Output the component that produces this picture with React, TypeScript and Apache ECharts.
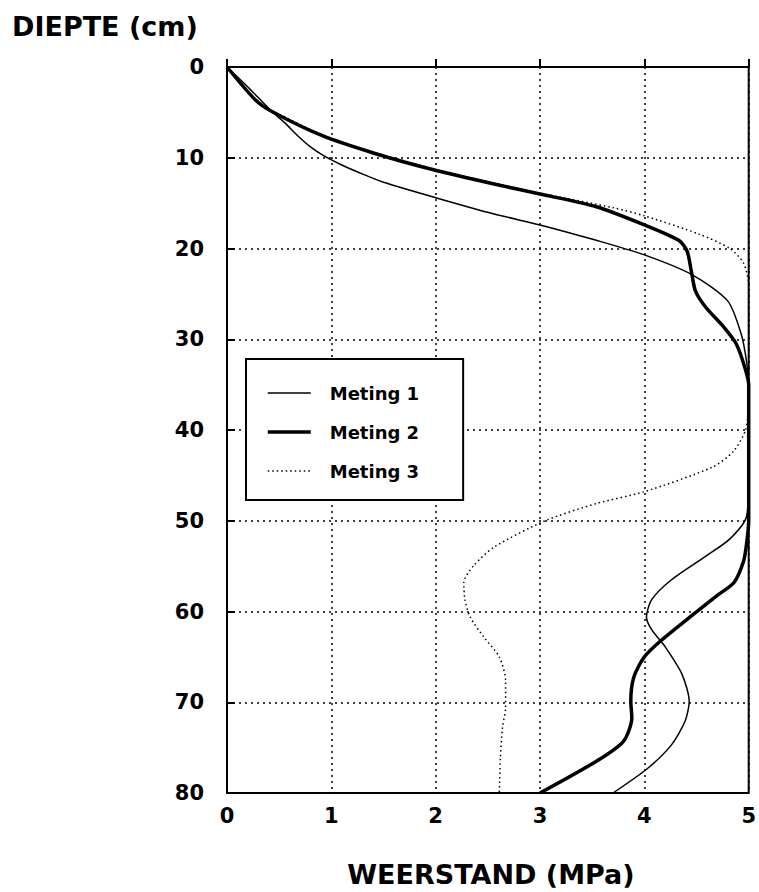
import React, { useEffect, useRef } from "react";
import * as echarts from "echarts";

const xTicks = [0, 1, 2, 3, 4, 5];
const yTicks = [0, 10, 20, 30, 40, 50, 60, 70, 80];

const meting1: [number, number][] = [
  [0, 0], [0.2, 2.2], [0.43, 4.9], [0.55, 6.1], [0.68, 7.6], [0.8, 8.8], [0.93, 9.8],
  [1.1, 10.8], [1.3, 11.8], [1.5, 12.7], [2.0, 14.4], [2.56, 16.2], [3.0, 17.4],
  [3.54, 19.1], [4.0, 20.7], [4.46, 22.9], [4.8, 25.8], [4.93, 29.5], [4.98, 32.5],
  [5.0, 35], [5.0, 40], [5.0, 45], [4.98, 49.5], [4.82, 52], [4.59, 53.9], [4.26, 56.5],
  [4.07, 58.7], [4.02, 60.6], [4.07, 62.0], [4.2, 63.9], [4.36, 66.9], [4.43, 69.9],
  [4.39, 72.1], [4.26, 74.7], [4.03, 77.3], [3.7, 80],
];

const meting2: [number, number][] = [
  [0, 0], [0.27, 3.6], [0.43, 4.9], [0.92, 7.6], [1.41, 9.5], [1.97, 11.3],
  [2.56, 12.9], [3.0, 14.0], [3.54, 15.4], [4.0, 17.4], [4.33, 19.1], [4.41, 20.3],
  [4.45, 22.5], [4.49, 24.7], [4.59, 26.5], [4.75, 28.5], [4.88, 30.5], [4.96, 33],
  [5.0, 35], [5.0, 40], [5.0, 45], [5.0, 50], [4.98, 52.5], [4.95, 54.5], [4.86, 56.8],
  [4.69, 58.3], [4.46, 60.4], [4.16, 63.2], [4.0, 65.0], [3.9, 67.2], [3.87, 69.9],
  [3.88, 71.7], [3.8, 74.3], [3.54, 76.5], [3.0, 80],
];

const meting3: [number, number][] = [
  [0, 0], [0.27, 3.5], [0.43, 4.8], [0.92, 7.5], [1.41, 9.4], [1.97, 11.2],
  [2.56, 12.8], [3.0, 13.9], [3.7, 15.5], [4.0, 16.4], [4.52, 18.4], [4.82, 20.0],
  [4.95, 21.6], [5.0, 24], [5.0, 30], [5.0, 37], [4.97, 40], [4.85, 42.4],
  [4.65, 44.1], [4.0, 46.8], [3.54, 48.1], [3.05, 50], [2.56, 52.9], [2.36, 55.0],
  [2.27, 56.8], [2.28, 58.7], [2.33, 60.6], [2.46, 62.8], [2.61, 65.0], [2.67, 67.6],
  [2.67, 70.6], [2.64, 72.8], [2.62, 76.2], [2.61, 80],
];

const seriesNames = ["Meting 1", "Meting 2", "Meting 3"];
const yTitle = "DIEPTE (cm)";
const xTitle = "WEERSTAND (MPa)";

const FONT = "DejaVu Sans";

export default function App() {
  const ref = useRef<HTMLDivElement>(null);
  useEffect(() => {
    document.body.style.margin = "0";
    if (!ref.current) return;
    const chart = echarts.init(ref.current, undefined, { renderer: "svg" });
    const splitStyle = { show: true, lineStyle: { color: "#000", width: 1.5, type: [2, 4] as any } };
    const widths = [1.5, 3.5, 1.5];
    const types: any[] = ["solid", "solid", [1.5, 3]];
    chart.setOption({
      animation: false,
      backgroundColor: "#fff",
      color: ["#000", "#000", "#000"],
      grid: { left: 227, right: 8, top: 67, bottom: 99, show: true, borderColor: "#000", borderWidth: 2, backgroundColor: "transparent" },
      xAxis: {
        type: "value",
        min: xTicks[0],
        max: xTicks[xTicks.length - 1],
        interval: 1,
        axisLine: { show: true, lineStyle: { color: "#000", width: 2 } },
        axisTick: { show: true, inside: true, length: 8, lineStyle: { color: "#000", width: 2 } },
        axisLabel: { margin: 12, color: "#000", fontFamily: FONT, fontWeight: "bold", fontSize: 21 },
        splitLine: splitStyle,
      },
      yAxis: {
        type: "value",
        inverse: true,
        min: yTicks[0],
        max: yTicks[yTicks.length - 1],
        interval: 10,
        axisLine: { show: true, lineStyle: { color: "#000", width: 2 } },
        axisTick: { show: true, inside: true, length: 8, lineStyle: { color: "#000", width: 2 } },
        axisLabel: { margin: 23, color: "#000", fontFamily: FONT, fontWeight: "bold", fontSize: 21 },
        splitLine: splitStyle,
      },
      legend: {
        orient: "vertical",
        left: 246,
        top: 359,
        data: seriesNames.map((name, i) => ({
          name,
          itemStyle: { opacity: 0 },
          lineStyle: { width: widths[i], type: types[i], color: "#000" },
        })),
        backgroundColor: "#fff",
        borderColor: "#000",
        borderWidth: 2,
        padding: [25, 44, 20, 20],
        itemWidth: 43,
        itemHeight: 14,
        itemGap: 21,
        textStyle: { color: "#000", fontFamily: FONT, fontWeight: "bold", fontSize: 18, lineHeight: 18, padding: [0, 0, 0, 14] },
      },
      graphic: [
        { type: "text", left: 12, top: 13, style: { text: yTitle, font: `bold 27px "${FONT}"`, fill: "#000" } },
        { type: "text", x: 491, y: 874, style: { text: xTitle, font: `bold 27px "${FONT}"`, fill: "#000", textAlign: "center", textVerticalAlign: "middle" } },
      ],
      series: [
        { name: seriesNames[0], type: "line", data: meting1, smooth: 0.25, symbol: "none", itemStyle: { color: "#000" }, lineStyle: { color: "#000", width: widths[0] }, z: 3 },
        { name: seriesNames[1], type: "line", data: meting2, smooth: 0.25, symbol: "none", itemStyle: { color: "#000" }, lineStyle: { color: "#000", width: widths[1] }, z: 4 },
        { name: seriesNames[2], type: "line", data: meting3, smooth: 0.25, symbol: "none", itemStyle: { color: "#000" }, lineStyle: { color: "#000", width: widths[2], type: types[2] }, z: 2 },
      ],
    });
    return () => chart.dispose();
  }, []);
  return <div ref={ref} style={{ width: 759, height: 892 }} />;
}
